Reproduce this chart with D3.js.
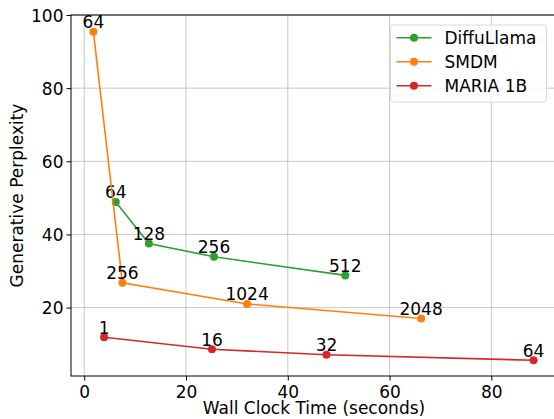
<!DOCTYPE html>
<html><head><meta charset="utf-8">
<script src="https://cdn.jsdelivr.net/npm/d3@7"></script>
<style>body{margin:0;background:#fff}svg{display:block;font-family:"DejaVu Sans",sans-serif}</style>
</head><body><svg id="c" width="554" height="419"></svg>
<script>
const seriesNames = ["DiffuLlama", "SMDM", "MARIA 1B"];
const seriesColors = ["#2ca02c", "#ff7f0e", "#d62728"];
const diffullamaTime = [6.2, 12.7, 25.5, 51.3];
const diffullamaPpl = [48.9, 37.5, 33.9, 28.8];
const diffullamaLabels = ["64", "128", "256", "512"];
const smdmTime = [1.8, 7.5, 32.0, 66.2];
const smdmPpl = [95.4, 26.8, 21.0, 17.0];
const smdmLabels = ["64", "256", "1024", "2048"];
const mariaTime = [3.9, 25.1, 47.6, 88.3];
const mariaPpl = [11.9, 8.6, 7.1, 5.6];
const mariaLabels = ["1", "16", "32", "64"];
const xTicks = [0, 20, 40, 60, 80];
const yTicks = [20, 40, 60, 80, 100];

const series = [
  {name: seriesNames[0], color: seriesColors[0], x: diffullamaTime, y: diffullamaPpl, l: diffullamaLabels},
  {name: seriesNames[1], color: seriesColors[1], x: smdmTime, y: smdmPpl, l: smdmLabels},
  {name: seriesNames[2], color: seriesColors[2], x: mariaTime, y: mariaPpl, l: mariaLabels}
];

const FS = 17;
const svg = d3.select("#c");
const L = 71, R = 558, T = 15, B = 376;
const x = d3.scaleLinear().domain([-2.6, 93.1]).range([L, R]);
const y = d3.scaleLinear().domain([1.3, 100]).range([B, T]);

const g = svg.append("g");
// grid
g.selectAll(".gx").data(xTicks).join("line")
  .attr("x1", d => x(d)).attr("x2", d => x(d)).attr("y1", T).attr("y2", B)
  .attr("stroke", "#b0b0b0").attr("stroke-opacity", 0.7).attr("stroke-width", 1);
g.selectAll(".gy").data(yTicks).join("line")
  .attr("y1", d => y(d)).attr("y2", d => y(d)).attr("x1", L).attr("x2", R)
  .attr("stroke", "#b0b0b0").attr("stroke-opacity", 0.7).attr("stroke-width", 1);

// axes
const xAxis = d3.axisBottom(x).tickValues(xTicks).tickSize(4.5).tickPadding(5);
const yAxis = d3.axisLeft(y).tickValues(yTicks).tickSize(4.5).tickPadding(4);
const gx = svg.append("g").attr("transform", `translate(0,${B})`).call(xAxis);
const gy = svg.append("g").attr("transform", `translate(${L},0)`).call(yAxis);
[gx, gy].forEach(a => {
  a.select(".domain").remove();
  a.selectAll("text").attr("font-size", FS).attr("fill", "#000").attr("font-family", "DejaVu Sans");
  a.selectAll("line").attr("stroke", "#000");
});
gx.selectAll("text").attr("dy", null).attr("y", 21.5);
gy.selectAll("text").attr("dy", "0.36em").attr("x", -7.5);
// spines
svg.append("rect").attr("x", L).attr("y", T).attr("width", R - L).attr("height", B - T)
  .attr("fill", "none").attr("stroke", "#000").attr("stroke-width", 1);

// series
const line = d3.line().x(d => x(d[0])).y(d => y(d[1]));
series.forEach(s => {
  const pts = s.x.map((v, i) => [v, s.y[i], s.l[i]]);
  svg.append("path").datum(pts).attr("d", line).attr("fill", "none")
    .attr("stroke", s.color).attr("stroke-width", 1.6);
  svg.selectAll(null).data(pts).join("circle")
    .attr("cx", d => x(d[0])).attr("cy", d => y(d[1])).attr("r", 4).attr("fill", s.color);
  svg.selectAll(null).data(pts).join("text")
    .attr("x", d => x(d[0])).attr("y", d => y(d[1]) - 3.5)
    .attr("text-anchor", "middle").attr("font-size", FS).attr("fill", "#000").text(d => d[2]);
});

// axis titles
svg.append("text").attr("x", (L + 553) / 2 + 2).attr("y", 413.5).attr("text-anchor", "middle")
  .attr("font-size", FS).text("Wall Clock Time (seconds)");
svg.append("text").attr("transform", `translate(22.5,${(T + B) / 2}) rotate(-90)`).attr("text-anchor", "middle")
  .attr("font-size", FS).text("Generative Perplexity");

// legend
const lg = svg.append("g");
lg.append("rect").attr("x", 390.5).attr("y", 25).attr("width", 156).attr("height", 77).attr("rx", 3)
  .attr("fill", "#fff").attr("fill-opacity", 0.8).attr("stroke", "#d9d9d9");
series.forEach((s, i) => {
  const yy = 37.7 + i * 24;
  lg.append("line").attr("x1", 396.5).attr("x2", 431.5).attr("y1", yy).attr("y2", yy)
    .attr("stroke", s.color).attr("stroke-width", 1.6);
  lg.append("circle").attr("cx", 414).attr("cy", yy).attr("r", 4).attr("fill", s.color);
  lg.append("text").attr("x", 444.5).attr("y", yy + 5.8).attr("font-size", FS).text(s.name);
});
</script></body></html>
